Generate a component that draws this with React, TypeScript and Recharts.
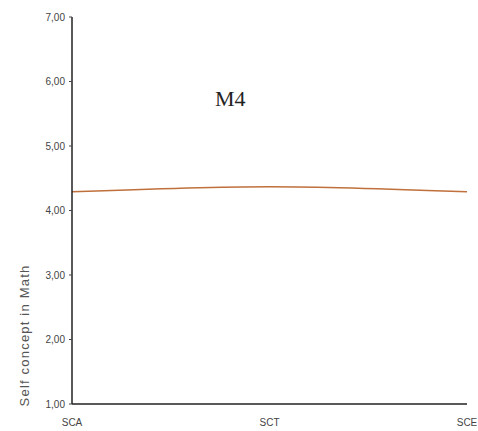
import { LineChart, Line, XAxis, YAxis } from 'recharts';

const categories = ["SCA", "SCT", "SCE"];
const selfConcept = [4.29, 4.37, 4.29];
const yTicks = [1, 2, 3, 4, 5, 6, 7];

const data = categories.map((c, i) => ({ name: c, value: selfConcept[i] }));

const fmt = (v: number) => v.toFixed(2).replace('.', ',');

export default function App() {
  return (
    <div style={{ position: "absolute", left: 0, top: 0, width: 478, height: 431, background: "#fff" }}>
      <LineChart width={478} height={431} data={data} margin={{ top: 17, right: 11, bottom: 7, left: 32 }}>
        <XAxis
          dataKey="name"
          axisLine={{ stroke: "#222", strokeWidth: 1.5 }}
          tickLine={false}
          height={20}
          tick={{ fontSize: 10, fill: "#444", fontFamily: "Liberation Sans, Arial" }}
          tickMargin={9}
        />
        <YAxis
          domain={[1, 7]}
          ticks={yTicks}
          tickFormatter={fmt}
          width={40}
          axisLine={{ stroke: "#222", strokeWidth: 1.5 }}
          tickLine={{ stroke: "#444" }}
          tickSize={3}
          tickMargin={4}
          tick={{ fontSize: 10, fill: "#444", fontFamily: "Liberation Sans, Arial" }}
          label={{
            value: "Self concept in Math",
            angle: -90,
            position: "insideLeft",
            dx: -13,
            dy: 125,
            style: { fontSize: 13, letterSpacing: 1.2, fill: "#555", fontFamily: "Liberation Sans, Arial", textAnchor: "middle" },
          }}
        />
        <Line type="monotone" dataKey="value" stroke="#c0703c" strokeWidth={1.5} dot={false} isAnimationActive={false} />
      </LineChart>
      <div style={{ position: "absolute", left: 215, top: 86, fontSize: 22, fontFamily: "Liberation Serif, serif", color: "#222" }}>M4</div>
    </div>
  );
}
